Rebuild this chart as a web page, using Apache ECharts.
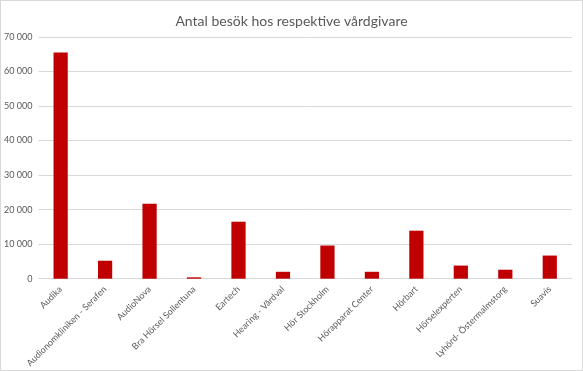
<!DOCTYPE html>
<html>
<head>
<meta charset="utf-8">
<script src="https://cdn.jsdelivr.net/npm/echarts@6/dist/echarts.min.js"></script>
<style>
  html, body { margin: 0; padding: 0; background: #fff; }
  #chart { width: 581px; height: 369px; border: 1px solid #d9d9d9; }
</style>
</head>
<body>
<div id="chart"></div>
<script>
// vårdgivare och antal besök
const categories = [
  'Audika', 'Audionomkliniken - Serafen', 'AudioNova', 'Bra Hörsel Sollentuna',
  'Eartech', 'Hearing - Vårdval', 'Hör Stockholm', 'Hörapparat Center',
  'Hörbart', 'Hörselexperten', 'Lyhörd- Östermalmstorg', 'Suavis'
];
const visits = [65500, 5200, 21700, 400, 16500, 2000, 9600, 2000, 13900, 3800, 2600, 6700];
const yTicks = [0, 10000, 20000, 30000, 40000, 50000, 60000, 70000];

const chart = echarts.init(document.getElementById('chart'));

const fmt = v => String(v).replace(/\B(?=(\d{3})+(?!\d))/g, ' ');

chart.setOption({
  animation: false,
  textStyle: { fontFamily: 'Lato' },
  title: {
    text: 'Antal besök hos respektive vårdgivare',
    left: 'center',
    top: 8,
    textStyle: { fontSize: 14, fontWeight: 'normal', color: '#595959', fontFamily: 'Lato' }
  },
  grid: { left: 37, right: 10, top: 36, bottom: 91 },
  xAxis: {
    type: 'category',
    data: categories,
    axisLine: { lineStyle: { color: '#d9d9d9' } },
    axisTick: { show: false },
    axisLabel: { rotate: 45, interval: 0, fontSize: 9, color: '#595959', margin: 9 }
  },
  yAxis: {
    type: 'value',
    min: yTicks[0],
    max: yTicks[yTicks.length - 1],
    interval: 10000,
    axisLine: { show: false },
    axisTick: { show: false },
    splitLine: { lineStyle: { color: '#d9d9d9' } },
    axisLabel: { fontSize: 9, color: '#595959', margin: 6, formatter: fmt }
  },
  series: [{
    type: 'bar',
    data: visits,
    barWidth: '32%',
    itemStyle: { color: '#c00000' }
  }]
});
</script>
</body>
</html>
